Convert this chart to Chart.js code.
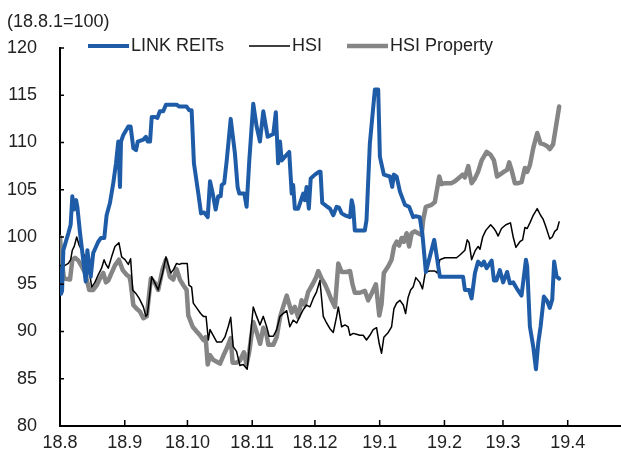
<!DOCTYPE html>
<html lang="ko">
<head>
  <meta charset="UTF-8">
  <title>LINK REITs vs HSI</title>
  <script src="https://cdn.jsdelivr.net/npm/chart.js"></script>
  <style>
    body {
      margin: 0;
      background: #ffffff;
      overflow: hidden;
    }
  </style>
</head>
<body>
  <canvas id="grafico" width="621" height="460"></canvas>

  <script>
    // days counted from 2018-08-01
    const monthDays = [0, 31, 61, 92, 122, 153, 184, 212, 243];
    const monthLabels = ['18.8', '18.9', '18.10', '18.11', '18.12', '19.1', '19.2', '19.3', '19.4'];
    const yTicks = [80, 85, 90, 95, 100, 105, 110, 115, 120];

    const linkDays = [0, 0.5, 1, 1.6, 4.0, 5.1, 5.9, 6.7, 7.7, 8.3,
      9.6, 11.1, 12.3, 13.1, 14.0, 14.7, 15.9, 18.3, 19.6, 21.2,
      22.3, 23.9, 25.5, 26.8, 27.9, 28.7, 29.2, 30.3, 32.7, 33.8,
      35.1, 36.4, 37.2, 39.9, 41.1, 42.0, 43.1, 43.9, 45.5, 46.6,
      47.8, 49.4, 50.7, 55.8, 57.1, 60.6, 61.9, 63.0, 64.1, 66.2,
      67.5, 68.9, 69.7, 70.7, 71.8, 73.1, 74.5, 75.7, 76.9, 77.4,
      78.6, 79.8, 81.7, 83.7, 85.0, 85.8, 88.2, 89.3, 90.6, 92.5,
      94.1, 95.7, 97.3, 99.4, 102.1, 103.3, 104.4, 105.3, 106.1, 107.7,
      109.7, 110.9, 111.6, 112.4, 114.0, 116.4, 117.2, 118.0, 119.1, 120.0,
      122.0, 123.9, 124.7, 125.5, 126.8, 127.9, 129.2, 130.8, 132.4, 133.6,
      134.8, 136.4, 138.8, 139.6, 140.3, 141.1, 145.9, 146.7, 148.3, 150.7,
      152.3, 153.1, 155.0, 157.9, 159.0, 159.8, 161.1, 162.7, 165.1, 167.1,
      169.0, 170.3, 172.2, 173.5, 175.1, 177.0, 179.1, 181.8, 182.6, 192.9,
      193.8, 195.8, 197.0, 198.6, 200.1, 201.8, 202.9, 204.2, 206.6, 207.7,
      208.9, 210.5, 212.1, 214.0, 215.3, 216.9, 218.5, 220.9, 223.0, 223.6,
      224.9, 226.5, 227.8, 228.9, 230.0, 231.6, 233.2, 234.4, 235.6, 236.5,
      237.7, 238.9];
    const linkValues = [96.5, 94.0, 94.3, 98.6, 100.4, 101.3, 104.3, 102.9, 103.9, 103.2,
      100.4, 97.6, 95.3, 98.6, 96.9, 95.8, 98.3, 99.5, 99.9, 99.9,
      102.3, 103.6, 105.7, 107.8, 110.1, 105.3, 110.1, 110.8, 111.7, 111.7,
      109.4, 109.2, 110.1, 110.3, 110.6, 110.1, 110.1, 112.7, 112.7, 112.6,
      113.3, 113.3, 114.0, 114.0, 113.8, 113.8, 113.4, 113.4, 107.8, 104.6,
      102.5, 102.6, 102.4, 102.1, 105.9, 104.6, 102.9, 104.3, 104.3, 105.5,
      105.7, 108.1, 112.5, 108.9, 105.3, 104.6, 104.6, 103.2, 108.1, 114.1,
      111.7, 110.1, 113.3, 110.6, 110.9, 113.2, 107.8, 110.1, 108.1, 108.5,
      109.0, 104.6, 105.5, 103.0, 103.0, 104.6, 103.9, 105.3, 103.0, 106.2,
      106.6, 106.9, 106.9, 103.6, 103.4, 103.2, 103.0, 102.3, 103.2, 103.1,
      102.5, 102.3, 102.1, 103.9, 103.2, 100.7, 100.7, 101.8, 109.9, 115.6,
      115.6, 108.5, 106.6, 106.4, 105.3, 106.6, 106.4, 104.8, 103.4, 103.2,
      102.1, 102.2, 102.1, 100.2, 96.3, 97.9, 99.7, 95.8, 95.8, 95.8,
      94.4, 94.4, 93.5, 96.2, 97.4, 97.0, 97.4, 96.7, 97.5, 95.4,
      95.4, 96.5, 95.2, 96.3, 95.1, 95.2, 94.6, 93.8, 97.6, 96.9,
      90.5, 88.4, 86.0, 88.8, 90.5, 93.7, 93.2, 92.5, 93.4, 97.4,
      95.8, 95.6];

    const hsiDays = [0, 1.6, 4.0, 5.1, 5.9, 6.8, 8.0, 9.2, 10.4, 12.0,
      13.1, 14.4, 15.2, 16.7, 18.3, 19.9, 21.1, 22.0, 23.1, 24.7,
      26.3, 28.2, 29.5, 31.1, 32.7, 33.8, 34.8, 36.4, 37.9, 39.9,
      41.1, 41.8, 43.9, 45.5, 47.0, 49.1, 50.7, 53.0, 54.2, 55.8,
      57.1, 58.2, 60.9, 61.7, 63.0, 63.8, 65.4, 67.3, 68.6, 69.9,
      71.0, 71.8, 73.3, 75.0, 77.4, 78.9, 80.5, 81.7, 82.9, 84.5,
      86.1, 87.7, 89.6, 90.6, 92.5, 94.1, 95.7, 97.3, 98.9, 100.1,
      102.1, 103.7, 105.3, 106.8, 108.5, 110.0, 111.6, 113.3, 114.8, 116.4,
      118.0, 119.6, 121.2, 122.8, 124.4, 126.0, 127.6, 129.2, 130.8, 132.4,
      133.2, 134.8, 136.4, 137.9, 138.8, 140.3, 141.9, 143.5, 145.1, 146.7,
      148.3, 149.9, 151.5, 152.8, 153.9, 155.0, 157.1, 158.7, 159.8, 161.1,
      162.7, 164.3, 165.4, 166.6, 167.8, 169.0, 170.3, 172.2, 173.5, 174.9,
      177.0, 179.4, 180.5, 181.8, 184.2, 186.6, 189.8, 191.4, 193.8, 194.9,
      195.8, 197.0, 198.6, 200.1, 201.0, 202.3, 203.8, 206.1, 207.7, 208.6,
      209.7, 211.3, 213.4, 215.6, 216.9, 218.2, 220.1, 221.4, 222.5, 223.6,
      224.9, 226.5, 228.4, 230.0, 231.2, 232.5, 234.4, 235.6, 236.8, 237.9,
      238.9];
    const hsiValues = [97.0, 96.9, 97.2, 97.6, 98.6, 99.0, 100.0, 99.1, 98.6, 97.9,
      96.9, 95.8, 94.7, 95.2, 96.0, 96.7, 97.6, 97.1, 96.7, 97.9,
      99.0, 99.4, 97.9, 97.6, 97.1, 97.7, 94.4, 94.0, 93.5, 92.6,
      91.6, 91.8, 95.8, 95.1, 94.4, 96.2, 97.9, 96.2, 96.5, 97.2,
      97.1, 97.2, 97.2, 94.9, 94.7, 93.0, 92.5, 91.9, 91.6, 91.6,
      89.1, 90.2, 89.6, 88.9, 88.9, 89.4, 90.5, 91.5, 88.4, 87.9,
      86.4, 86.5, 86.0, 88.3, 92.6, 91.6, 90.7, 91.6, 90.5, 89.5,
      89.5, 90.2, 91.6, 91.9, 92.2, 90.5, 91.2, 90.9, 91.6, 92.3,
      92.8, 92.6, 93.5, 94.2, 95.4, 91.6, 90.9, 90.3, 89.9, 91.6,
      92.6, 90.5, 90.7, 90.5, 89.6, 89.8, 89.7, 89.6, 89.6, 89.1,
      89.6, 90.2, 90.4, 88.7, 87.7, 89.4, 89.9, 90.5, 92.4, 93.0,
      93.3, 92.8, 91.9, 93.6, 94.4, 94.7, 95.7, 95.2, 94.5, 96.3,
      96.4, 96.4, 96.2, 97.6, 97.8, 97.8, 97.8, 98.1, 98.6, 99.7,
      99.4, 97.6, 98.5, 99.0, 98.7, 100.0, 100.7, 101.3, 100.9, 100.6,
      100.1, 100.9, 101.3, 101.5, 100.0, 98.9, 99.5, 99.7, 101.0, 100.9,
      101.5, 102.3, 103.0, 102.3, 101.9, 101.1, 99.8, 100.0, 100.6, 100.8,
      101.6];

    const propDays = [0, 0.8, 1.9, 4.8, 5.9, 7.2, 8.8, 10.4, 12.0, 14.0,
      15.9, 17.6, 19.1, 20.7, 22.0, 23.1, 24.7, 26.3, 28.2, 30.0,
      31.9, 33.2, 33.8, 35.1, 36.7, 38.3, 39.9, 41.5, 43.5, 45.5,
      47.0, 49.1, 50.7, 52.6, 54.2, 55.8, 57.4, 59.0, 60.6, 61.4,
      63.5, 65.4, 67.0, 68.6, 69.7, 70.7, 71.8, 73.3, 75.0, 76.6,
      78.1, 80.0, 81.7, 82.6, 84.5, 86.1, 88.0, 89.3, 90.6, 92.5,
      94.3, 95.8, 97.3, 98.9, 99.7, 102.1, 103.7, 105.3, 106.8, 108.5,
      109.7, 110.9, 112.4, 114.0, 115.6, 117.2, 118.8, 120.9, 122.5, 123.6,
      125.2, 126.8, 128.4, 130.0, 131.6, 133.2, 134.8, 137.2, 138.8, 140.0,
      141.1, 143.5, 145.9, 147.5, 149.1, 151.2, 152.8, 153.9, 155.0, 157.1,
      158.7, 159.9, 161.1, 162.3, 163.5, 164.6, 165.9, 167.1, 168.3, 169.9,
      171.4, 173.1, 173.8, 175.1, 177.8, 179.4, 181.5, 182.6, 184.2, 187.4,
      189.0, 190.6, 192.7, 193.8, 195.4, 197.0, 198.6, 200.1, 201.8, 204.2,
      206.1, 207.7, 209.2, 210.5, 212.4, 214.0, 215.0, 216.1, 217.7, 219.3,
      220.9, 222.5, 223.6, 224.9, 226.5, 228.4, 230.0, 231.6, 233.2, 234.4,
      236.0, 238.9];
    const propValues = [100.0, 97.6, 95.6, 95.5, 97.6, 97.8, 97.5, 96.9, 96.2, 94.4,
      94.4, 94.9, 95.6, 96.2, 95.2, 95.4, 96.2, 97.0, 97.6, 96.5,
      96.0, 95.8, 95.2, 92.8, 92.4, 92.1, 91.4, 91.6, 95.6, 95.1,
      94.4, 96.6, 97.6, 95.8, 95.5, 96.6, 95.5, 94.9, 94.4, 91.7,
      90.5, 90.0, 89.6, 89.1, 89.4, 86.5, 87.5, 87.0, 86.8, 86.6,
      87.4, 88.3, 89.3, 86.7, 86.7, 86.9, 87.8, 86.5, 87.9, 91.0,
      89.8, 88.7, 90.4, 89.6, 88.6, 88.6, 89.4, 91.5, 92.6, 93.8,
      92.9, 92.0, 92.6, 91.5, 93.3, 92.8, 94.2, 95.0, 95.7, 96.4,
      95.6, 95.0, 94.2, 93.3, 92.6, 97.2, 96.3, 96.3, 96.4, 95.0,
      94.1, 94.1, 94.3, 93.3, 94.0, 95.0, 91.7, 92.9, 96.2, 96.9,
      97.6, 99.0, 99.5, 99.1, 99.9, 99.5, 100.4, 99.0, 100.4, 100.6,
      100.4, 100.2, 101.8, 103.2, 103.4, 103.7, 106.4, 105.6, 105.7, 105.7,
      105.9, 106.2, 106.6, 106.3, 107.5, 105.7, 106.2, 106.9, 108.1, 109.0,
      108.7, 108.1, 106.4, 106.6, 106.9, 107.1, 107.9, 107.1, 105.7, 105.7,
      105.8, 107.3, 106.9, 107.6, 109.4, 111.0, 109.9, 109.8, 109.6, 109.3,
      109.8, 113.8];

    const fonte = "'Liberation Sans', Arial, sans-serif";
    const corTexto = '#222222';

    function pontos(dias, valores) {
      return dias.map((d, i) => ({ x: d, y: valores[i] }));
    }

    // short ticks pointing into the plot
    const ticksInternos = {
      id: 'ticksInternos',
      afterDraw(chart) {
        const { ctx, chartArea, scales } = chart;
        ctx.save();
        ctx.strokeStyle = '#000000';
        ctx.lineWidth = 1.5;
        ctx.beginPath();
        monthDays.slice(1).forEach(d => {
          const px = scales.x.getPixelForValue(d);
          ctx.moveTo(px, chartArea.bottom);
          ctx.lineTo(px, chartArea.bottom - 6);
        });
        yTicks.slice(1).forEach(v => {
          const py = scales.y.getPixelForValue(v);
          ctx.moveTo(chartArea.left, py);
          ctx.lineTo(chartArea.left + 4, py);
        });
        ctx.stroke();
        ctx.restore();
      }
    };

    // legend drawn inside the top of the plot, short line + label
    const legendaLinha = {
      id: 'legendaLinha',
      afterDraw(chart) {
        const ctx = chart.ctx;
        let x = 88;
        const y = 46;
        ctx.save();
        ctx.font = '18px ' + fonte;
        ctx.textBaseline = 'middle';
        ctx.textAlign = 'left';
        chart.data.datasets.forEach(ds => {
          ctx.strokeStyle = ds.borderColor;
          ctx.lineWidth = ds.borderWidth;
          ctx.beginPath();
          ctx.moveTo(x, y);
          ctx.lineTo(x + 41, y);
          ctx.stroke();
          x += 43;
          ctx.fillStyle = corTexto;
          ctx.fillText(ds.label, x, y);
          x += ctx.measureText(ds.label).width + 25;
        });
        ctx.restore();
      }
    };

    new Chart(document.getElementById('grafico'), {
      type: 'line',
      data: {
        datasets: [
          { label: 'LINK REITs', data: pontos(linkDays, linkValues), borderColor: '#1f5ca8', borderWidth: 4 },
          { label: 'HSI', data: pontos(hsiDays, hsiValues), borderColor: '#000000', borderWidth: 1.5 },
          { label: 'HSI Property', data: pontos(propDays, propValues), borderColor: '#858585', borderWidth: 4.5 }
        ]
      },
      options: {
        responsive: false,
        animation: false,
        devicePixelRatio: 1,
        layout: { padding: { left: 7, right: 0, top: 0, bottom: 0 } },
        elements: {
          point: { radius: 0 },
          line: { tension: 0, borderJoinStyle: 'round', borderCapStyle: 'round' }
        },
        plugins: {
          legend: { display: false },
          tooltip: { enabled: false },
          title: {
            display: true,
            text: '(18.8.1=100)',
            align: 'start',
            color: corTexto,
            font: { family: fonte, size: 18, weight: 'normal', lineHeight: 1.2 },
            padding: { top: 11, bottom: 15.4 }
          }
        },
        scales: {
          x: {
            type: 'linear',
            min: 0,
            max: 268.5,
            grid: { display: false, drawTicks: false },
            border: { display: true, color: '#000000', width: 2 },
            afterBuildTicks: s => { s.ticks = monthDays.map(v => ({ value: v })); },
            afterFit: s => { s.height = 34; },
            ticks: {
              autoSkip: false,
              maxRotation: 0,
              padding: 6,
              color: corTexto,
              font: { family: fonte, size: 18 },
              callback: v => monthLabels[monthDays.indexOf(v)]
            }
          },
          y: {
            min: 80,
            max: 120,
            grid: { display: false, drawTicks: false },
            border: { display: true, color: '#000000', width: 2 },
            afterBuildTicks: s => { s.ticks = yTicks.map(v => ({ value: v })); },
            afterFit: s => { s.width = 53; },
            ticks: {
              padding: 23,
              color: corTexto,
              font: { family: fonte, size: 18 }
            }
          }
        }
      },
      plugins: [ticksInternos, legendaLinha]
    });
  </script>
</body>
</html>
